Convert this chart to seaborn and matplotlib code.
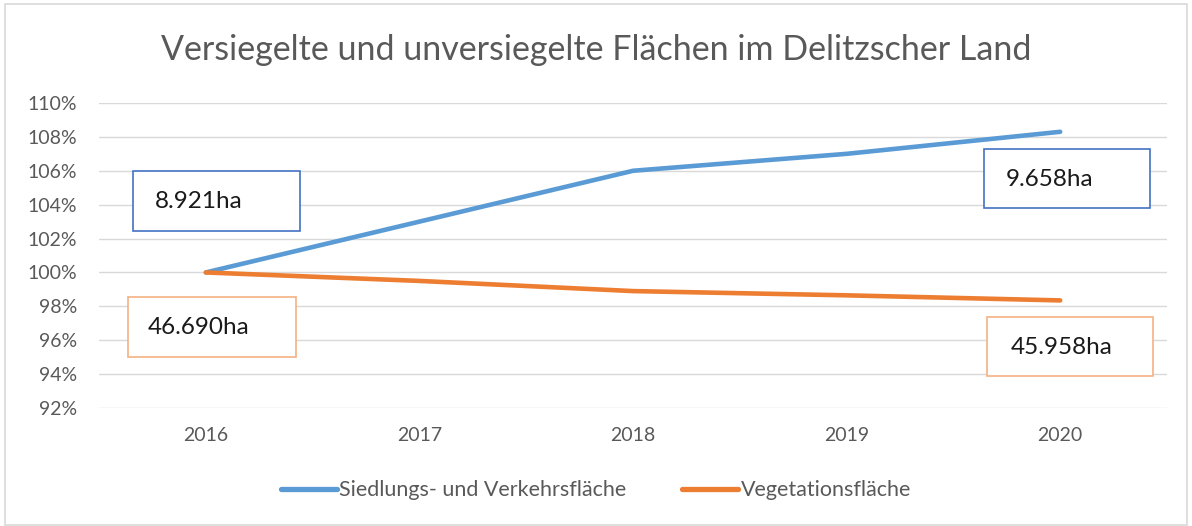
import matplotlib
matplotlib.use("Agg")
import matplotlib.pyplot as plt
import seaborn as sns
import pandas as pd
from matplotlib.patches import Rectangle
from matplotlib.lines import Line2D

years = ["2016", "2017", "2018", "2019", "2020"]
siedlung = [100.0, 103.0, 106.0, 107.0, 108.3]
vegetation = [100.0, 99.5, 98.9, 98.65, 98.35]
series_names = ["Siedlungs- und Verkehrsfläche", "Vegetationsfläche"]
box_labels = ["8.921ha", "46.690ha", "9.658ha", "45.958ha"]
title = "Versiegelte und unversiegelte Flächen im Delitzscher Land"
yticks = list(range(92, 111, 2))

df = pd.DataFrame({
    "Jahr": years * 2,
    "Wert": siedlung + vegetation,
    "Serie": [series_names[0]] * len(years) + [series_names[1]] * len(years),
})
df["x"] = [years.index(y) for y in df["Jahr"]]

sns.set_theme(style="white")
plt.rcParams["font.family"] = ["Lato", "DejaVu Sans"]

fig = plt.figure(figsize=(11.92, 5.26), dpi=100)
ax = fig.add_axes([0.0831, 0.2243, 0.979 - 0.0831, 0.8042 - 0.2243])

blue = "#5B9BD5"
orange = "#ED7D31"
sns.lineplot(data=df, x="x", y="Wert", hue="Serie", palette=[blue, orange],
             linewidth=3.3, ax=ax, legend=False, solid_capstyle="round")

ax.set_xlim(-0.5, 4.5)
ax.set_ylim(92, 110)
ax.set_yticks(yticks)
ax.set_yticklabels([f"{t}%" for t in yticks])
ax.set_xticks(range(len(years)))
ax.set_xticklabels(years)
ax.set_xlabel("")
ax.set_ylabel("")
ax.grid(axis="y", color="#D9D9D9", linewidth=1)
ax.set_axisbelow(True)
for s in ax.spines.values():
    s.set_visible(False)
ax.tick_params(axis="both", length=0, colors="#595959", labelsize=14)
ax.tick_params(axis="y", pad=16)
ax.tick_params(axis="x", pad=14)

# text boxes (x0, x1, y0, y1, text x, text y)
boxes = [
    (-0.342, 0.44, 102.42, 105.96, -0.24, 104.2, "#4472C4"),
    (-0.365, 0.42, 94.99, 98.53, -0.27, 96.75, "#F4B183"),
    (3.644, 4.422, 103.78, 107.26, 3.745, 105.5, "#4472C4"),
    (3.658, 4.436, 93.86, 97.35, 3.77, 95.6, "#F4B183"),
]
for (x0, x1, y0, y1, tx, ty, ec), lab in zip(boxes, box_labels):
    ax.add_patch(Rectangle((x0, y0), x1 - x0, y1 - y0, facecolor="white",
                           edgecolor=ec, linewidth=1.2, clip_on=False, zorder=5))
    ax.text(tx, ty, lab, fontsize=17.5, color="#1a1a1a", va="center", ha="left",
            zorder=6)

fig.text(0.5, 0.905, title, ha="center", va="center", fontsize=24.5,
         color="#595959")

handles = [Line2D([0], [0], color=blue, lw=3.8, solid_capstyle="round"),
           Line2D([0], [0], color=orange, lw=3.8, solid_capstyle="round")]
fig.legend(handles, series_names, loc="center", bbox_to_anchor=(0.5, 0.068),
           ncol=2, frameon=False, fontsize=15.5, labelcolor="#595959",
           handlelength=2.6, handletextpad=0.1, columnspacing=2.6)

fig.add_artist(Rectangle((0.004, 0.002), 0.992, 0.99, transform=fig.transFigure,
                         fill=False, edgecolor="#D9D9D9", linewidth=1.2))

fig.savefig("out.png", dpi=100)
